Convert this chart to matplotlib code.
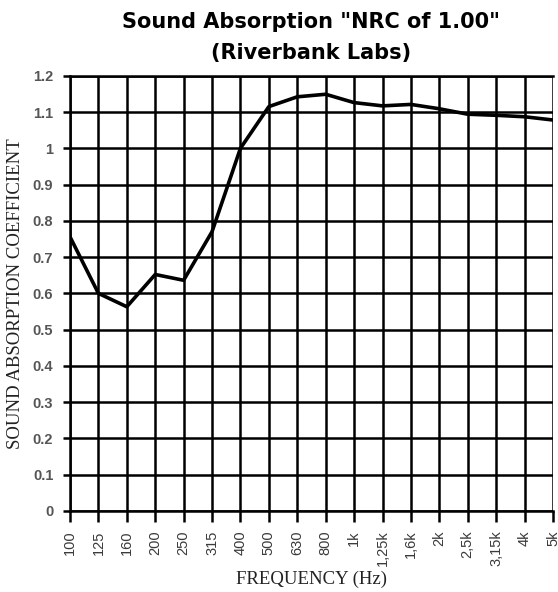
import matplotlib
matplotlib.use("Agg")
import matplotlib.pyplot as plt

# Data
freq_labels = ["100", "125", "160", "200", "250", "315", "400", "500", "630",
               "800", "1k", "1,25k", "1,6k", "2k", "2,5k", "3,15k", "4k", "5k"]
absorption = [0.756, 0.600, 0.563, 0.652, 0.636, 0.770, 1.000, 1.115, 1.142,
              1.149, 1.126, 1.117, 1.121, 1.109, 1.094, 1.091, 1.087, 1.078]
y_ticks = [0, 0.1, 0.2, 0.3, 0.4, 0.5, 0.6, 0.7, 0.8, 0.9, 1, 1.1, 1.2]
y_tick_labels = ["0", "0.1", "0.2", "0.3", "0.4", "0.5", "0.6", "0.7", "0.8",
                 "0.9", "1", "1.1", "1.2"]

fig = plt.figure(figsize=(5.58, 5.92), dpi=100)
ax = fig.add_axes([0.1254, 0.137, 0.8656, 0.735])

x = list(range(len(freq_labels)))
ax.plot(x, absorption, color="black", linewidth=2.6, zorder=3)

ax.set_xlim(0, len(freq_labels) - 1)
ax.set_ylim(0, 1.2)
ax.set_xticks(x)
ax.set_xticklabels(freq_labels, rotation=90, family="Liberation Sans",
                   fontsize=10.5, color="#3a3a3a")
ax.set_yticks(y_ticks)
ax.set_yticklabels(y_tick_labels, family="Liberation Sans", fontsize=10.5,
                   fontweight="bold", color="#555555")
ax.tick_params(axis="x", length=8, width=1.8, color="black", pad=6)
ax.tick_params(axis="y", length=5, width=1.8, color="black", pad=7)

ax.grid(True, color="black", linewidth=1.8, zorder=1)
for side in ["left", "right", "top", "bottom"]:
    ax.spines[side].set_linewidth(1.8)
ax.spines["right"].set_visible(False)

ax.set_title('Sound Absorption "NRC of 1.00"\n(Riverbank Labs)',
             fontsize=15, fontweight="bold", family="DejaVu Sans",
             linespacing=1.7, pad=12)
ax.set_xlabel("FREQUENCY (Hz)", family="Liberation Serif", fontsize=13.5,
              color="#222222", va="center")
ax.xaxis.set_label_coords(0.5, -0.158)
ax.set_ylabel("SOUND ABSORPTION COEFFICIENT", family="Liberation Serif",
              fontsize=13.5, color="#222222", labelpad=6)

fig.savefig("out.png", dpi=100, facecolor="white")
